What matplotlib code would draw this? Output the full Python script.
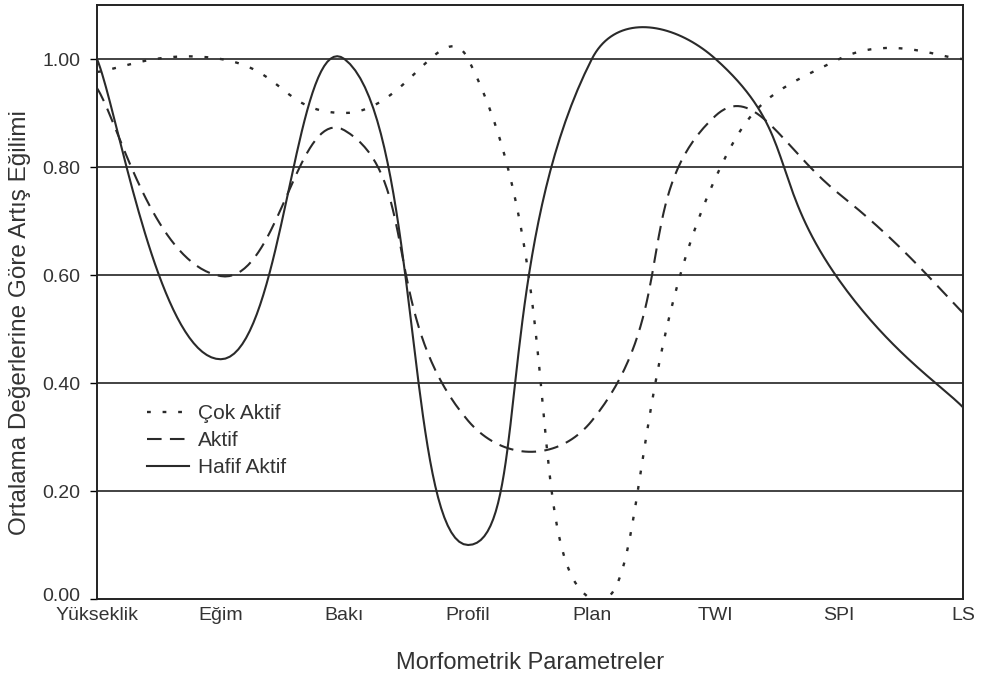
import numpy as np
import matplotlib
matplotlib.use("Agg")
import matplotlib.pyplot as plt
import matplotlib.transforms as mtransforms

plt.rcParams['font.family'] = ['Liberation Sans', 'DejaVu Sans']

kategoriler = ["Yükseklik", "Eğim", "Bakı", "Profil", "Plan", "TWI", "SPI", "LS"]

cok_aktif = [0.976, 1.00, 0.90, 1.00, 0.00, 0.78, 1.00, 1.00]
aktif = [0.946, 0.598, 0.868, 0.33, 0.33, 0.895, 0.75, 0.53]
hafif_aktif = [1.00, 0.444, 1.00, 0.10, 1.00, 1.00, 0.59, 0.355]

y_ticks = [0.0, 0.2, 0.4, 0.6, 0.8, 1.0]

# excel benzeri yumusatma (bezier, komsu mesafeye gore agirlikli)
PX_X = 124.0   # kategori basina piksel
PX_Y = 540.0   # 1.0 birim icin piksel
S = 0.5


def yumusat(y, n=40):
    x = np.arange(len(y), dtype=float)
    y = np.asarray(y, dtype=float)
    P = np.column_stack([x, y])
    sc = np.array([PX_X, PX_Y])
    N = len(P)
    c_sonra = np.zeros_like(P)
    c_once = np.zeros_like(P)
    for i in range(N):
        if i == 0:
            c_sonra[i] = P[i] + (P[i + 1] - P[i]) / 6
            continue
        if i == N - 1:
            c_once[i] = P[i] - (P[i] - P[i - 1]) / 6
            continue
        T = P[i + 1] - P[i - 1]
        d0 = np.linalg.norm((P[i] - P[i - 1]) * sc)
        d1 = np.linalg.norm((P[i + 1] - P[i]) * sc)
        c_sonra[i] = P[i] + T * S * d1 / (d0 + d1)
        c_once[i] = P[i] - T * S * d0 / (d0 + d1)
    xs, ys = [], []
    t = np.linspace(0, 1, n)[:, None]
    for i in range(N - 1):
        b = ((1 - t) ** 3 * P[i] + 3 * (1 - t) ** 2 * t * c_sonra[i]
             + 3 * (1 - t) * t ** 2 * c_once[i + 1] + t ** 3 * P[i + 1])
        xs.extend(b[:, 0])
        ys.extend(b[:, 1])
    return np.array(xs), np.array(ys)


fig = plt.figure(figsize=(9.81, 6.79), dpi=100)
ax = fig.add_axes([97 / 981, 1 - 599 / 679, (963 - 97) / 981, 594 / 679])

for yy in y_ticks[1:]:
    ax.axhline(yy, color="#222222", linewidth=1.2, zorder=1)

x1, y1 = yumusat(cok_aktif)
x2, y2 = yumusat(aktif)
x3, y3 = yumusat(hafif_aktif)

ax.plot(x1, y1, color="#2a2a2a", linewidth=1.7, linestyle=(0, (1.6, 5.0)),
        label="Çok Aktif", zorder=3)
ax.plot(x2, y2, color="#2a2a2a", linewidth=1.5, linestyle=(0, (7, 4)),
        label="Aktif", zorder=3)
ax.plot(x3, y3, color="#2a2a2a", linewidth=1.5, label="Hafif Aktif", zorder=3)

ax.set_xlim(0, len(kategoriler) - 1)
ax.set_ylim(0, 1.1)
ax.set_xticks(range(len(kategoriler)))
ax.set_xticklabels(kategoriler)
ax.set_yticks(y_ticks)
ax.set_yticklabels(["%.2f" % v for v in y_ticks])
ax.tick_params(axis="x", length=0, pad=6, labelsize=14, labelcolor="#333333")
ax.tick_params(axis="y", length=5, width=1.0, pad=7, labelsize=14,
               labelcolor="#333333")
# 0.00 etiketini biraz yukari al
lbl0 = ax.get_yticklabels()[0]
lbl0.set_transform(lbl0.get_transform() +
                   mtransforms.ScaledTranslation(0, 3 / 72, fig.dpi_scale_trans))
for sp in ax.spines.values():
    sp.set_linewidth(1.4)
    sp.set_color("#222222")

ax.set_xlabel("Morfometrik Parametreler", fontsize=17, color="#333333", labelpad=20)
ax.set_ylabel("Ortalama Değerlerine Göre Artış Eğilimi", fontsize=17.5,
              color="#333333")
ax.yaxis.set_label_coords(-0.076, 0.466)

ax.legend(loc="upper left", bbox_to_anchor=(0.0577, 0.328), frameon=False,
          fontsize=15, handlelength=2.0, handletextpad=0.45, labelspacing=0.38,
          borderpad=0, borderaxespad=0, labelcolor="#333333")

fig.savefig("out.png", dpi=100, facecolor="white")
